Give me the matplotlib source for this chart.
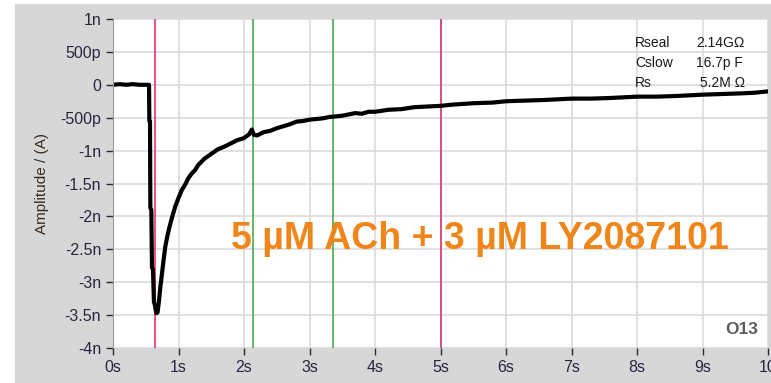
import matplotlib.pyplot as plt
from matplotlib.patches import Rectangle

# trace (s, nA)
t = [0.0, 0.1, 0.2, 0.3, 0.4, 0.5, 0.55, 0.555, 0.565, 0.57, 0.585, 0.595,
     0.61, 0.625, 0.64, 0.66, 0.68, 0.7, 0.72, 0.75, 0.78, 0.8, 0.83, 0.86,
     0.9, 0.95, 1.0, 1.05, 1.1, 1.15, 1.2, 1.25, 1.3, 1.4, 1.5, 1.6, 1.7,
     1.8, 1.9, 2.0, 2.08, 2.12, 2.15, 2.2, 2.3, 2.4, 2.5, 2.6, 2.7, 2.8,
     2.9, 3.0, 3.1, 3.2, 3.3, 3.4, 3.5, 3.6, 3.7, 3.8, 3.9, 4.0, 4.2, 4.4,
     4.6, 4.8, 5.0, 5.2, 5.5, 5.8, 6.0, 6.3, 6.6, 7.0, 7.3, 7.6, 8.0, 8.3,
     8.6, 9.0, 9.3, 9.6, 9.8, 10.0]
amp = [0.0, 0.01, 0.0, 0.01, 0.0, 0.0, 0.0, -0.55, -0.56, -1.87, -1.9,
       -2.78, -2.8, -3.3, -3.35, -3.47, -3.46, -3.3, -3.1, -2.85, -2.6,
       -2.45, -2.3, -2.17, -2.02, -1.85, -1.72, -1.6, -1.52, -1.42, -1.35,
       -1.3, -1.22, -1.12, -1.05, -0.98, -0.94, -0.89, -0.84, -0.81, -0.75,
       -0.68, -0.76, -0.77, -0.72, -0.7, -0.66, -0.63, -0.6, -0.56, -0.55,
       -0.53, -0.52, -0.51, -0.49, -0.48, -0.47, -0.45, -0.43, -0.44, -0.41,
       -0.41, -0.38, -0.37, -0.34, -0.33, -0.32, -0.3, -0.28, -0.27, -0.25,
       -0.24, -0.23, -0.21, -0.21, -0.2, -0.18, -0.18, -0.17, -0.15, -0.14,
       -0.13, -0.12, -0.1]

red_lines = [0.64, 5.0]
green_lines = [2.14, 3.36]

xticks = list(range(11))
xlabels = ["0s", "1s", "2s", "3s", "4s", "5s", "6s", "7s", "8s", "9s", "10"]
yticks = [1, 0.5, 0, -0.5, -1, -1.5, -2, -2.5, -3, -3.5, -4]
ylabels = ["1n", "500p", "0", "-500p", "-1n", "-1.5n", "-2n", "-2.5n",
           "-3n", "-3.5n", "-4n"]

params = [("Rseal", "2.14G\u03a9"), ("Cslow", "16.7p F"), ("Rs", " 5.2M \u03a9")]

plt.rcParams["font.family"] = ["Liberation Sans", "DejaVu Sans"]

fig = plt.figure(figsize=(7.71, 3.83), dpi=100)
fig.patch.set_facecolor("white")
fig.patches.append(Rectangle((15 / 771, 0), 1, 1 - 4 / 383, transform=fig.transFigure,
                             facecolor="#d7d7d7", edgecolor="none", zorder=-5))

ax = fig.add_axes([113 / 771, 35 / 383, 655 / 771, 329 / 383])
ax.set_zorder(2)
ax.set_facecolor("white")
ax.set_xlim(0, 10)
ax.set_ylim(-4, 1)
ax.set_xticks(xticks)
ax.set_xticklabels(xlabels)
ax.set_yticks(yticks)
ax.set_yticklabels(ylabels)
ax.grid(True, color="#dadada", lw=1.2)
ax.set_axisbelow(True)
ax.tick_params(colors="#2a2a2a", labelsize=11.5, length=5, width=1, labelcolor="#2b2440")
for s in ax.spines.values():
    s.set_visible(False)
ax.spines["left"].set_visible(True)
ax.spines["left"].set_color("#9a9a9a")

for x in red_lines:
    ax.axvline(x, color="#e0245a", lw=1.1)
for x in green_lines:
    ax.axvline(x, color="#3aa53a", lw=1.1)

ax.plot(t, amp, color="black", lw=3, solid_joinstyle="round")

ax.set_ylabel("Amplitude / (A)", fontsize=11, color="#3b2a20", labelpad=8)

ax.text(1.8, -2.34, "5 \u00b5M ACh + 3 \u00b5M LY2087101", fontsize=27,
        fontweight="bold", color="#f08519", va="center", ha="left")

for i, (name, val) in enumerate(params):
    y = 0.64 - i * 0.31
    ax.text(7.97, y, name, fontsize=10, color="#1a1a1a", va="center")
    ax.text(8.9, y, val, fontsize=10, color="#1a1a1a", va="center")

ax.text(9.85, -3.72, "O13", fontsize=12.5, fontweight="bold", color="#5c5c5c",
        ha="right", va="center")

fig.savefig("out.png", dpi=100)
